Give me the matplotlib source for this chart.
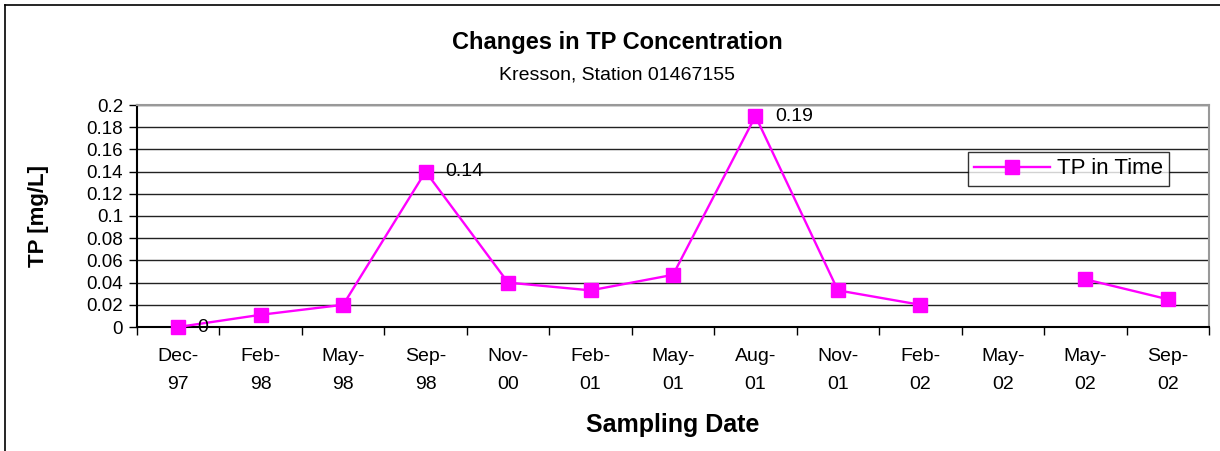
import numpy as np
import matplotlib
matplotlib.use("Agg")
import matplotlib.pyplot as plt
from matplotlib.lines import Line2D

# data
dates = ["Dec-\n97", "Feb-\n98", "May-\n98", "Sep-\n98", "Nov-\n00", "Feb-\n01", "May-\n01",
         "Aug-\n01", "Nov-\n01", "Feb-\n02", "May-\n02", "May-\n02", "Sep-\n02"]
tp = [0.0, 0.011, 0.02, 0.14, 0.04, 0.033, 0.047, 0.19, 0.033, 0.02, np.nan, 0.043, 0.025]
labelled = {0: "0", 3: "0.14", 7: "0.19"}

plt.rcParams["font.family"] = ["Liberation Sans", "DejaVu Sans"]

fig = plt.figure(figsize=(12.2, 4.51), dpi=100)
ax = fig.add_axes([137 / 1220, 124 / 451, 1072 / 1220, 222 / 451])

x = np.arange(len(dates))
ax.plot(x, tp, color="#FF00FF", lw=1.7, marker="s", ms=10, mec="#FF00FF",
        label="TP in Time", clip_on=False, zorder=5)

for i, txt in labelled.items():
    ax.annotate(txt, (x[i], tp[i]), xytext=(14, 0), textcoords="offset points",
                ha="left", va="center", fontsize=14, zorder=6)

# axes limits and ticks
ax.set_xlim(-0.5, len(dates) - 0.5)
ax.set_ylim(0, 0.2)
yt = np.arange(0, 0.201, 0.02)
ax.set_yticks(yt)
ax.set_yticklabels(["0"] + [f"{v:g}" for v in yt[1:]], fontsize=13.5)
ax.set_xticks(np.arange(-0.5, len(dates), 1.0))
ax.set_xticklabels([])
ax.set_xticks(x, minor=True)
ax.set_xticklabels(dates, minor=True, fontsize=14, linespacing=1.85)
ax.tick_params(axis="x", which="minor", length=0, pad=15)
ax.tick_params(axis="x", which="major", direction="out", length=6, width=1, color="black")
ax.tick_params(axis="y", direction="out", length=6, width=1, pad=4)

ax.grid(axis="y", color="#222222", lw=1)
ax.set_axisbelow(True)
for s in ["left", "bottom"]:
    ax.spines[s].set_color("black")
    ax.spines[s].set_linewidth(1.5)
for s in ["top", "right"]:
    ax.spines[s].set_color("#999999")
    ax.spines[s].set_linewidth(1.5)

ax.set_xlabel("Sampling Date", fontsize=18, fontweight="bold")
ax.xaxis.set_label_coords(0.5, -0.44)
ax.xaxis.label.set_va("center")
ax.set_ylabel("TP [mg/L]", fontsize=16, fontweight="bold")
ax.yaxis.set_label_coords(-0.092, 0.5)
ax.yaxis.label.set_va("center")

leg = ax.legend(loc="upper right", bbox_to_anchor=(0.963, 0.79), borderaxespad=0,
                fontsize=16, frameon=True, fancybox=False, handlelength=3.4,
                borderpad=0.3, handletextpad=0.3)
leg.get_frame().set_edgecolor("black")
leg.get_frame().set_linewidth(1)

fig.text(0.506, 1 - 42 / 451, "Changes in TP Concentration", ha="center", va="center",
         fontsize=17, fontweight="bold")
fig.text(0.506, 1 - 75 / 451, "Kresson, Station 01467155", ha="center", va="center",
         fontsize=14)

# outer chart border (left and top visible)
fig.add_artist(Line2D([5 / 1220, 5 / 1220], [0, 1 - 5 / 451], transform=fig.transFigure,
                      color="black", lw=1.2))
fig.add_artist(Line2D([5 / 1220, 1], [1 - 5 / 451, 1 - 5 / 451], transform=fig.transFigure,
                      color="black", lw=1.2))

fig.savefig("out.png", dpi=100, facecolor="white")
